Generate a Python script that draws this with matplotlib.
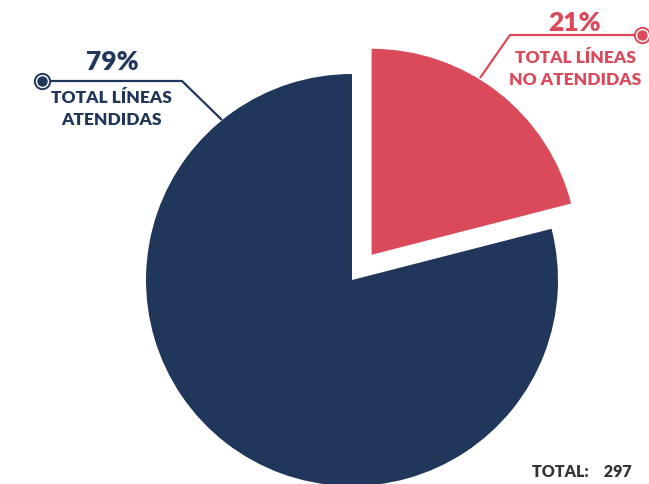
import matplotlib
matplotlib.use("Agg")
import matplotlib.pyplot as plt

W, H = 649, 484

shares = [21, 79]
pct_labels = ["21%", "79%"]
names = ["TOTAL LÍNEAS\nNO ATENDIDAS", "TOTAL LÍNEAS\nATENDIDAS"]
colors = ["#DB4A5A", "#20375B"]
total = 297

plt.rcParams["font.family"] = ["Lato", "DejaVu Sans"]

fig = plt.figure(figsize=(W / 100, H / 100), dpi=100)
ax = fig.add_axes([0, 0, 1, 1])

cx, cy, r = 352, H - 280, 206
# explode is in data units here (axes span pixels)
ax.pie(shares, colors=colors, startangle=90, counterclock=False,
       explode=[0.155 * r, 0], center=(cx, cy), radius=r, frame=True,
       wedgeprops=dict(linewidth=0))

ax.set_xlim(0, W)
ax.set_ylim(0, H)
ax.set_aspect("equal")
ax.axis("off")


def y(p):
    return H - p


wt = "heavy"

# red label (not attended)
ax.plot([480, 510, 640], [y(78), y(35), y(35)], color=colors[0], lw=1.6,
        solid_capstyle="butt", zorder=3)
ax.plot(642, y(35), "o", ms=11, mfc="white", mec=colors[0], mew=1.4, zorder=4)
ax.plot(642, y(35), "o", ms=6.5, color=colors[0], zorder=5)
ax.text(575, y(23), pct_labels[0], color=colors[0], fontsize=19,
        fontweight=wt, ha="center", va="center")
ax.text(575, y(69), names[0], color=colors[0], fontsize=12.5,
        fontweight=wt, ha="center", va="center", linespacing=1.45)

# navy label (attended)
ax.plot([222, 182, 43], [y(120), y(81), y(81)], color=colors[1], lw=1.6,
        solid_capstyle="butt", zorder=3)
ax.plot(42, y(81), "o", ms=11, mfc="white", mec=colors[1], mew=1.4, zorder=4)
ax.plot(42, y(81), "o", ms=6.5, color=colors[1], zorder=5)
ax.text(112, y(62), pct_labels[1], color=colors[1], fontsize=19,
        fontweight=wt, ha="center", va="center")
ax.text(111, y(109), names[1], color=colors[1], fontsize=12.5,
        fontweight=wt, ha="center", va="center", linespacing=1.45)

ax.text(632, y(472), f"TOTAL:    {total}", color="#333333", fontsize=11.5,
        fontweight=wt, ha="right", va="center")

fig.savefig("out.png", dpi=100)
